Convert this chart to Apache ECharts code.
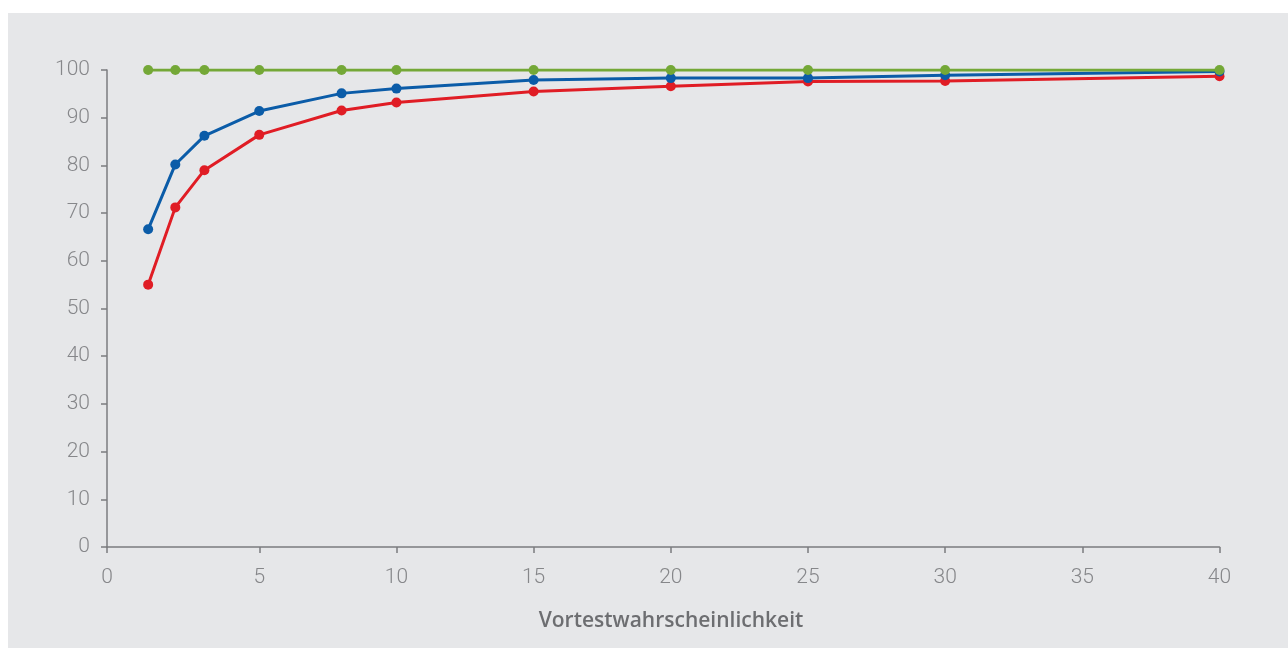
<!DOCTYPE html>
<html>
<head>
<meta charset="utf-8">
<script src="https://cdn.jsdelivr.net/npm/echarts@6/dist/echarts.min.js"></script>
<style>
html,body{margin:0;padding:0;background:#fff;}
#chart{width:1288px;height:648px;}
</style>
</head>
<body>
<div id="chart"></div>
<script>
// Data
var xValues = [0.95, 1.94, 3, 5, 8, 10, 15, 20, 25, 30, 40];
var redValues = [55, 71.2, 79, 86.4, 91.5, 93.2, 95.5, 96.6, 97.6, 97.7, 98.7];
var blueValues = [66.6, 80.2, 86.2, 91.4, 95.1, 96.1, 97.9, 98.3, 98.3, 98.9, 99.7];
var greenValues = [100, 100, 100, 100, 100, 100, 100, 100, 100, 100, 100];
var xTickLabels = [0, 5, 10, 15, 20, 25, 30, 35, 40];
var yTickLabels = [0, 10, 20, 30, 40, 50, 60, 70, 80, 90, 100];
var xAxisTitle = 'Vortestwahrscheinlichkeit';

var X_START = -0.55; // axis begins slightly left of 0; first tick sits at axis start
var xTickPositions = xTickLabels.map(function (v) { return v === 0 ? X_START : v; });

function pairs(ys) { return xValues.map(function (x, i) { return [x, ys[i]]; }); }

var labelFont = 'Roboto, "Liberation Sans", sans-serif';
var chart = echarts.init(document.getElementById('chart'));
var lineW = 3, sym = 10;
var axisColor = '#7b7c7f';
chart.setOption({
  backgroundColor: '#ffffff',
  animation: false,
  graphic: [{
    type: 'rect', z: -10, silent: true,
    shape: { x: 8, y: 13, width: 1280, height: 635 },
    style: { fill: '#e6e7e9' }
  }],
  title: {
    text: xAxisTitle,
    left: 666, top: 606, textAlign: 'center',
    textStyle: { fontFamily: '"Open Sans", "Liberation Sans", sans-serif', fontWeight: 600, fontSize: 21, color: '#6d6e71' }
  },
  grid: { left: 107, right: 68.5, top: 70, bottom: 101, containLabel: false },
  xAxis: {
    type: 'value', min: X_START, max: 40,
    axisLine: { show: true, onZero: false, lineStyle: { color: axisColor, width: 1.5 } },
    axisTick: { show: true, length: 6, customValues: xTickPositions, lineStyle: { color: axisColor, width: 1.5 } },
    axisLabel: {
      customValues: xTickPositions, margin: 20,
      formatter: function (v) { return v < 0 ? '0' : String(v); },
      fontFamily: labelFont, fontWeight: 300, fontSize: 21, color: '#86878a'
    },
    splitLine: { show: false }
  },
  yAxis: {
    type: 'value', min: 0, max: 100, interval: 10,
    axisLine: { show: true, onZero: false, lineStyle: { color: axisColor, width: 1.5 } },
    axisTick: { show: true, length: 6, lineStyle: { color: axisColor, width: 1.5 } },
    axisLabel: {
      margin: 17,
      formatter: function (v) { return yTickLabels.indexOf(v) >= 0 ? String(v) : ''; },
      fontFamily: labelFont, fontWeight: 300, fontSize: 21, color: '#86878a'
    },
    splitLine: { show: false }
  },
  series: [
    { type: 'line', data: pairs(redValues), color: '#e01d25', symbol: 'circle', symbolSize: sym,
      lineStyle: { width: lineW }, itemStyle: { color: '#e01d25' }, z: 2 },
    { type: 'line', data: pairs(blueValues), color: '#0b5ca8', symbol: 'circle', symbolSize: sym,
      lineStyle: { width: lineW }, itemStyle: { color: '#0b5ca8' }, z: 3 },
    { type: 'line', data: pairs(greenValues), color: '#74a837', symbol: 'circle', symbolSize: sym,
      lineStyle: { width: lineW }, itemStyle: { color: '#74a837' }, z: 4 }
  ]
});
</script>
</body>
</html>
